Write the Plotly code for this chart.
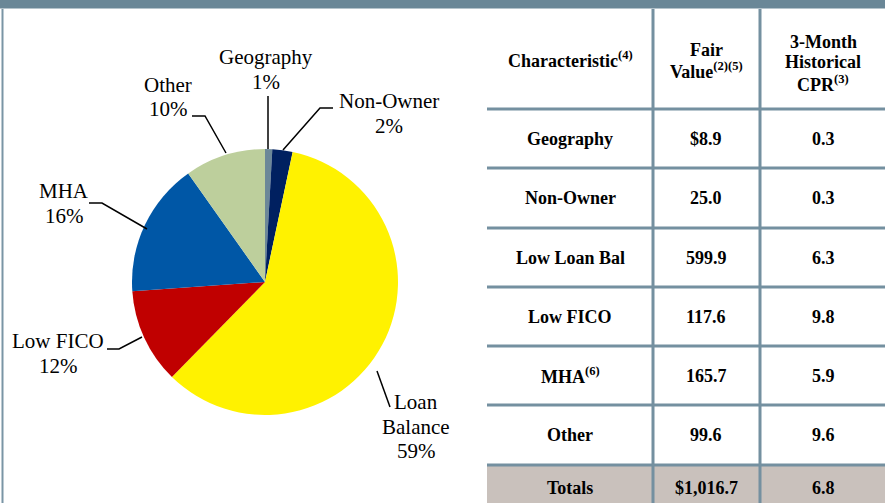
import plotly.graph_objects as go

W, H = 885, 503

# ---- data ----
segments = ["Geography", "Non-Owner", "Loan Balance", "Low FICO", "MHA", "Other"]
fair_value = [8.9, 25.0, 599.9, 117.6, 165.7, 99.6]
slice_colors = ["#6c8898", "#002060", "#fff200", "#c00000", "#0057a6", "#bdcf9c"]

table_chars = ["Geography", "Non-Owner", "Low Loan Bal", "Low FICO", "MHA<sup>(6)</sup>", "Other"]
table_cpr = [0.3, 0.3, 6.3, 9.8, 5.9, 9.6]
total_label = "Totals"
total_cpr = 6.8
header_cells = [["Characteristic<sup>(4)</sup>"],
                ["Fair", "Value<sup>(2)(5)</sup>"],
                ["3-Month", "Historical", "CPR<sup>(3)</sup>"]]

SERIF = "Liberation Serif"
LINE_C = "#7490a0"


def px(x):
    return x / W


def py(y):
    return 1 - y / H


fig = go.Figure()

fig.add_trace(go.Pie(
    labels=segments, values=fair_value, sort=False, direction="clockwise",
    rotation=0, marker=dict(colors=slice_colors, line=dict(width=0)),
    textinfo="none", hoverinfo="label+percent", showlegend=False,
    domain=dict(x=[px(132), px(398)], y=[py(415), py(149)])
))

total = sum(fair_value)
pct = [f"{round(v / total * 100)}%" for v in fair_value]

shapes = []
annotations = []


def text_lines(lines, x, y0, spacing, size, bold=False, color="black"):
    for i, t in enumerate(lines):
        annotations.append(dict(
            x=px(x), y=py(y0 + i * spacing), xref="paper", yref="paper",
            text=f"<b>{t}</b>" if bold else t, showarrow=False,
            xanchor="center", yanchor="middle",
            font=dict(family=SERIF, size=size, color=color)))


# ---- pie labels (layout positions) ----
label_layout = {
    "Geography": (266, 57, ["Geography"]),
    "Non-Owner": (389, 101, ["Non-Owner"]),
    "Loan Balance": (416, 402, ["Loan", "Balance"]),
    "Low FICO": (58, 341, ["Low FICO"]),
    "MHA": (64, 191, ["MHA"]),
    "Other": (168, 85, ["Other"]),
}
for seg, p in zip(segments, pct):
    x, y, lines = label_layout[seg]
    text_lines(lines + [p], x, y, 24.5, 21)

leaders = {
    "Geography": [(268, 149), (268, 96)],
    "Non-Owner": [(283, 150), (320, 108), (333, 108)],
    "Loan Balance": [(377, 371), (390, 407)],
    "Low FICO": [(107, 349), (119, 349), (142, 337)],
    "MHA": [(89, 203), (102, 203), (147, 229)],
    "Other": [(192, 116), (205, 116), (226, 153)],
}
for seg in segments:
    pts = leaders[seg]
    path = "M " + " L ".join(f"{px(a)},{py(b)}" for a, b in pts)
    shapes.append(dict(type="path", path=path, xref="paper", yref="paper",
                       line=dict(color="black", width=1.5)))

# ---- frame ----
shapes.append(dict(type="rect", x0=0, x1=1, y0=py(8.5), y1=1, xref="paper", yref="paper",
                   fillcolor="#6a8797", line=dict(width=0)))
shapes.append(dict(type="line", x0=px(2.5), x1=px(2.5), y0=py(9), y1=0, xref="paper", yref="paper",
                   line=dict(color="#7a95a5", width=2)))

# ---- table ----
col_x = [487, 653, 760, 885]
col_c = [570, 706, 823]
row_b = [109, 168, 228, 287, 346, 405, 465, 503]

shapes.append(dict(type="rect", x0=px(487), x1=1, y0=0, y1=py(465), xref="paper", yref="paper",
                   fillcolor="#c9c1bc", line=dict(width=0)))
for yb in row_b[:-1]:
    shapes.append(dict(type="line", x0=px(487), x1=1, y0=py(yb), y1=py(yb), xref="paper",
                       yref="paper", line=dict(color=LINE_C, width=3)))
for xv in col_x[1:3]:
    shapes.append(dict(type="line", x0=px(xv), x1=px(xv), y0=py(9), y1=0, xref="paper",
                       yref="paper", line=dict(color=LINE_C, width=3)))

# header
header_y0 = [60, 50, 42]
for c, lines, y0 in zip(col_c, header_cells, header_y0):
    text_lines(lines, c, y0, 20.5, 18, bold=True)

# body
for i, (ch, fv, cp) in enumerate(zip(table_chars, fair_value, table_cpr)):
    yc = (row_b[i] + row_b[i + 1]) / 2
    fv_txt = f"${fv:,.1f}" if i == 0 else f"{fv:,.1f}"
    for c, t in zip(col_c, [ch, fv_txt, f"{cp:.1f}"]):
        text_lines([t], c, yc, 0, 18, bold=True)

# totals
text_lines([total_label], col_c[0], 488, 0, 18, bold=True)
text_lines([f"${total:,.1f}"], col_c[1], 488, 0, 18, bold=True)
text_lines([f"{total_cpr:.1f}"], col_c[2], 488, 0, 18, bold=True)

fig.update_layout(
    width=W, height=H, margin=dict(l=0, r=0, t=0, b=0),
    paper_bgcolor="white", plot_bgcolor="white",
    shapes=shapes, annotations=annotations,
)

fig.write_html("out.html", config={"displayModeBar": False},
               post_script="document.body.style.margin='0';document.body.style.padding='0';")
